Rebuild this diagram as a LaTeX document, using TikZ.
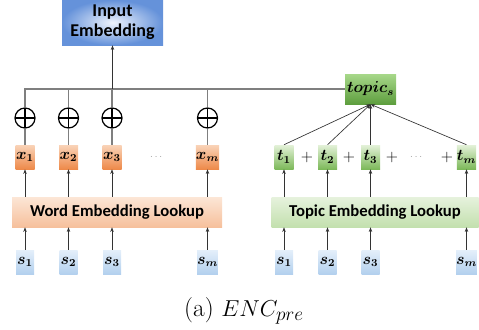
\documentclass[tikz,border=0pt]{standalone}
\usepackage{amsmath}
\usepackage{bm}
\usepackage{fontspec}
\newfontfamily\boxfont{Carlito}
\usetikzlibrary{arrows.meta}

\definecolor{embin}{HTML}{EEF3FC}
\definecolor{embout}{HTML}{6592DA}
\definecolor{topin}{HTML}{A7D88A}
\definecolor{topout}{HTML}{5E9E3E}
\definecolor{peachtop}{HTML}{FCE6D6}
\definecolor{peachbot}{HTML}{F6C09C}
\definecolor{mintop}{HTML}{E6F2DD}
\definecolor{minbot}{HTML}{C3E0AE}
\definecolor{orgtop}{HTML}{F9D3B8}
\definecolor{orgbot}{HTML}{EE8A4A}
\definecolor{grntop}{HTML}{E3F1D8}
\definecolor{grnbot}{HTML}{7DB95A}
\definecolor{bluetop}{HTML}{E4EFFA}
\definecolor{bluebot}{HTML}{B3D0EE}
\definecolor{wire}{HTML}{7F7F7F}

\begin{document}
\begin{tikzpicture}[x=0.75pt,y=-0.75pt,>={Stealth[length=3.5pt,width=2.6pt]},
    font=\fontsize{11.5}{14}\selectfont,
    embbox/.style={inner sep=0pt,minimum width=75.75pt,minimum height=33.75pt,align=center,
        font=\boxfont\bfseries\fontsize{13.5}{15}\selectfont,shading=radial,inner color=embin,outer color=embout},
    topicbox/.style={inner sep=0pt,minimum width=38.25pt,minimum height=22.5pt,top color=topin,bottom color=topout},
    lookup/.style={inner sep=0pt,minimum height=22.5pt,font=\boxfont\bfseries\fontsize{12.5}{15}\selectfont},
    xbox/.style={inner sep=0pt,minimum width=14.25pt,minimum height=18pt,top color=orgtop,bottom color=orgbot},
    tbox/.style={inner sep=0pt,minimum width=14.25pt,minimum height=18pt,top color=grntop,bottom color=grnbot},
    sbox/.style={inner sep=0pt,minimum width=13.5pt,minimum height=18pt,top color=bluetop,bottom color=bluebot},
    oplus/.style={circle,draw,line width=0.9pt,minimum size=15pt,inner sep=0pt,
        path picture={\draw[line width=0.9pt] (path picture bounding box.north) -- (path picture bounding box.south)
            (path picture bounding box.west) -- (path picture bounding box.east);}},
    thick wire/.style={draw=wire,line width=1.1pt},
    thin arrow/.style={->,draw=black!80,line width=0.5pt}]
    \useasboundingbox (0,0) rectangle (479,329);

    \node[embbox] (inputemb) at (112.5,22.5) {Input\\Embedding};
    \node[topicbox] (topics) at (370.5,89) {$\bm{topic_s}$};

    \node[oplus] (p1) at (25,118) {};
    \node[oplus] (p2) at (68.5,118) {};
    \node[oplus] (p3) at (112,118) {};
    \node[oplus] (pm) at (207.5,118) {};

    \node[xbox] (x1) at (25,157) {$\bm{x_1}$};
    \node[xbox] (x2) at (68.5,157) {$\bm{x_2}$};
    \node[xbox] (x3) at (112,157) {$\bm{x_3}$};
    \node (xdots) at (157,157) {\tiny$\cdots$};
    \node[xbox] (xm) at (207.5,157) {$\bm{x_m}$};

    \node[tbox] (t1) at (284,157) {$\bm{t_1}$};
    \node (plus1) at (307,157) {$+$};
    \node[tbox] (t2) at (327.5,157) {$\bm{t_2}$};
    \node (plus2) at (349,157) {$+$};
    \node[tbox] (t3) at (370.5,157) {$\bm{t_3}$};
    \node (plus3) at (392,157) {$+$};
    \node (tdots) at (417,157) {\tiny$\cdots$};
    \node (plus4) at (447,157) {$+$};
    \node[tbox] (tm) at (466.5,157) {$\bm{t_m}$};

    \node[lookup,minimum width=157.5pt,top color=peachtop,bottom color=peachbot] (wordlookup) at (117,212) {Word Embedding Lookup};
    \node[lookup,minimum width=155.25pt,top color=mintop,bottom color=minbot] (topiclookup) at (375,212) {Topic Embedding Lookup};

    \node[sbox] (s1) at (25,262) {$\bm{s_1}$};
    \node[sbox] (s2) at (68.5,262) {$\bm{s_2}$};
    \node[sbox] (s3) at (112,262) {$\bm{s_3}$};
    \node[sbox] (sm) at (207.5,262) {$\bm{s_m}$};
    \node[sbox] (r1) at (284,262) {$\bm{s_1}$};
    \node[sbox] (r2) at (327.5,262) {$\bm{s_2}$};
    \node[sbox] (r3) at (370.5,262) {$\bm{s_3}$};
    \node[sbox] (rm) at (466.5,262) {$\bm{s_m}$};

    \node[font=\fontsize{19}{22}\selectfont] (caption) at (244,311) {(a)\ $ENC_{pre}$};

    \draw[thick wire] (topics.west) -| (p1);
    \draw[thick wire] (p2 |- topics) -- (p2);
    \draw[thick wire] (p3 |- topics) -- (p3);
    \draw[thick wire] (pm |- topics) -- (pm);
    \draw[thin arrow] (inputemb |- topics) -- (inputemb);

    \draw[thick wire] (p1) -- (x1);
    \draw[thick wire] (p2) -- (x2);
    \draw[thick wire] (p3) -- (x3);
    \draw[thick wire] (pm) -- (xm);

    \draw[thin arrow] (t1.north) -- (topics.south);
    \draw[thin arrow] (t2.north) -- (topics.south);
    \draw[thin arrow] (t3.north) -- (topics.south);
    \draw[thin arrow] (tm.north) -- (topics.south);

    \draw[thin arrow] (wordlookup.north -| x1) -- (x1);
    \draw[thin arrow] (wordlookup.north -| x2) -- (x2);
    \draw[thin arrow] (wordlookup.north -| x3) -- (x3);
    \draw[thin arrow] (wordlookup.north -| xm) -- (xm);
    \draw[thin arrow] (topiclookup.north -| t1) -- (t1);
    \draw[thin arrow] (topiclookup.north -| t2) -- (t2);
    \draw[thin arrow] (topiclookup.north -| t3) -- (t3);
    \draw[thin arrow] (topiclookup.north -| tm) -- (tm);

    \draw[thin arrow] (s1) -- (s1 |- wordlookup.south);
    \draw[thin arrow] (s2) -- (s2 |- wordlookup.south);
    \draw[thin arrow] (s3) -- (s3 |- wordlookup.south);
    \draw[thin arrow] (sm) -- (sm |- wordlookup.south);
    \draw[thin arrow] (r1) -- (r1 |- topiclookup.south);
    \draw[thin arrow] (r2) -- (r2 |- topiclookup.south);
    \draw[thin arrow] (r3) -- (r3 |- topiclookup.south);
    \draw[thin arrow] (rm) -- (rm |- topiclookup.south);
\end{tikzpicture}
\end{document}
